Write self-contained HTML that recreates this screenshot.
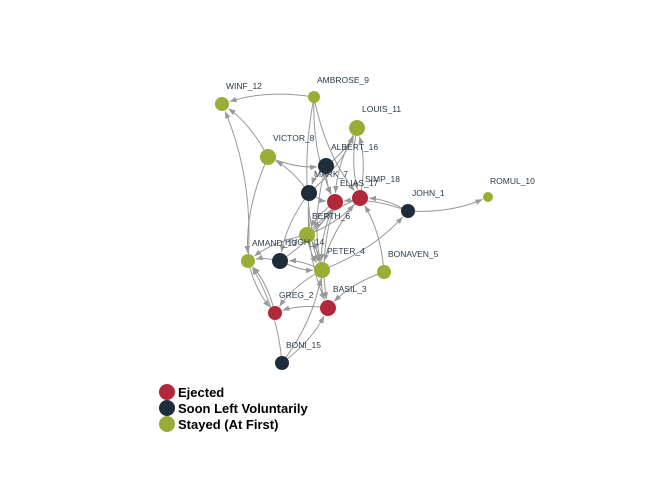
<!DOCTYPE html>
<html><head><meta charset="utf-8"><style>
html,body{margin:0;padding:0;background:#fff;}
svg{display:block;font-family:"Liberation Sans",sans-serif;}
</style></head><body>
<svg id="chart" width="672" height="480" viewBox="0 0 672 480">
<defs><marker id="arr" viewBox="0 0 10 10" refX="10" refY="5" markerWidth="7" markerHeight="7" orient="auto-start-reverse"><path d="M0,1 L10,5 L0,9 z" fill="#999"/></marker></defs>
<g id="edges"></g>
<g id="nodes"></g>
<g id="labels"></g>
<g font-size="13" font-weight="bold" fill="#000">
<g><circle cx="167" cy="392" r="8" fill="#b0283a"/><text x="178" y="397">Ejected</text></g>
<g><circle cx="167" cy="408" r="8" fill="#1f2d3b"/><text x="178" y="413">Soon Left Voluntarily</text></g>
<g><circle cx="167" cy="424" r="8" fill="#9aae37"/><text x="178" y="429">Stayed (At First)</text></g>
</g>
</svg>
<script>
const names=["WINF_12","AMBROSE_9","LOUIS_11","VICTOR_8","ALBERT_16","MARK_7","ELIAS_17","SIMP_18","JOHN_1","ROMUL_10","BERTH_6","AMAND_13","HUGH_14","PETER_4","BONAVEN_5","GREG_2","BASIL_3","BONI_15"];
const groups=[2,2,2,2,1,1,0,0,1,2,2,2,1,2,2,0,0,1];
const layoutX=[222,314,357,268,326,309,335,360,408,488,307,248,280,322,384,275,328,282];
const layoutY=[104,97,128,157,166,193,202,198,211,197,235,261,261,270,272,313,308,363];
const radii=[7,6,8,8,8,8,8,8,7,5,8,7,8,8,7,7,8,7];
const colors=["#b0283a","#1f2d3b","#9aae37"];
const edges=[[1,0],[1,6],[1,7],[3,0],[3,4],[5,3],[3,11],[11,0],[2,6],[2,7],[7,2],[4,2],[5,2],[4,5],[4,6],[4,13],[5,6],[5,12],[8,7],[8,6],[8,9],[7,10],[6,10],[10,6],[10,11],[12,11],[12,13],[13,12],[13,10],[13,15],[10,13],[13,16],[16,15],[14,16],[14,7],[17,11],[11,15],[15,11],[17,16],[17,13],[7,13],[6,13],[6,16],[5,16],[13,8],[1,13],[10,7],[12,6],[5,13]];
const ns="http://www.w3.org/2000/svg";
const eg=document.getElementById('edges'),ng=document.getElementById('nodes'),lg=document.getElementById('labels');
edges.forEach(([s,t])=>{
 const x1=layoutX[s],y1=layoutY[s],x2=layoutX[t],y2=layoutY[t];
 const dx=x2-x1,dy=y2-y1;
 const mx=(x1+x2)/2-dy*0.12,my=(y1+y2)/2+dx*0.12;
 const ux=x2-mx,uy=y2-my,ud=Math.hypot(ux,uy)||1;
 const ex=x2-ux/ud*(radii[t]+1),ey=y2-uy/ud*(radii[t]+1);
 const p=document.createElementNS(ns,'path');
 p.setAttribute('d',`M${x1},${y1} Q${mx},${my} ${ex},${ey}`);
 p.setAttribute('fill','none');p.setAttribute('stroke','#999');p.setAttribute('stroke-width','1');
 p.setAttribute('marker-end','url(#arr)');
 
 
 eg.appendChild(p);
});
names.forEach((n,i)=>{
 const c=document.createElementNS(ns,'circle');
 c.setAttribute('cx',layoutX[i]);c.setAttribute('cy',layoutY[i]);c.setAttribute('r',radii[i]);
 c.setAttribute('fill',colors[groups[i]]);
 
 
 ng.appendChild(c);
 const t=document.createElementNS(ns,'text');
 t.setAttribute('x',layoutX[i]+radii[i]-3);t.setAttribute('y',layoutY[i]-radii[i]-8);
 t.setAttribute('font-size','8.5');t.setAttribute('fill','#2b3a4a');
 t.textContent=n;
 
 
 lg.appendChild(t);
});
</script>
</body></html>
